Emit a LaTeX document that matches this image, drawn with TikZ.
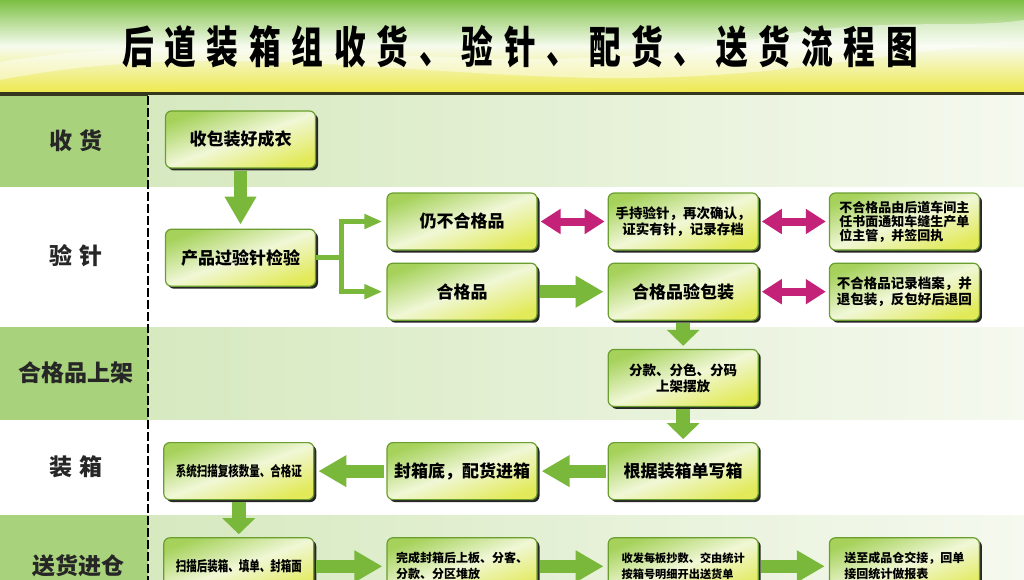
\documentclass[tikz,border=0pt]{standalone}
\usepackage{fontspec}
\usepackage{graphicx}
\setmainfont{Noto Sans CJK SC}
\usetikzlibrary{arrows.meta,positioning,shadows}

\definecolor{bannergreen}{HTML}{7CC043}
\definecolor{bannerwhite}{HTML}{F6FBEE}
\definecolor{banneryellow}{HTML}{EEE94F}
\definecolor{bandline}{HTML}{34361E}
\definecolor{leftgreen}{HTML}{A9D27C}
\definecolor{rowgreen}{HTML}{D6E9BF}
\definecolor{rowfade}{HTML}{F5F9EF}
\definecolor{boxtop}{HTML}{A6D25C}
\definecolor{boxmid}{HTML}{F0F7D6}
\definecolor{boxbot}{HTML}{E2EA5A}
\definecolor{boxline}{HTML}{6A9E2E}
\definecolor{arrowgreen}{HTML}{79B83A}
\definecolor{pinkarrow}{HTML}{C42279}

\begin{document}
\begin{tikzpicture}[x=1pt, y=-1pt,
        node distance=70pt,
        stepbox/.style={draw=boxline, line width=1.2pt, rounded corners=6pt,
            top color=boxtop, bottom color=boxbot, middle color=boxmid, shading angle=20,
            drop shadow={shadow xshift=2.5pt, shadow yshift=-2.5pt, fill=black!85, opacity=1},
            minimum width=150pt, minimum height=57pt, inner sep=2pt, align=center,
            font=\bfseries\fontsize{17}{20}\selectfont},
        smalltext/.style={font=\bfseries\fontsize{13.5}{16}\selectfont},
        tinytext/.style={font=\bfseries\fontsize{12}{16}\selectfont, align=left},
        rowlabel/.style={font=\bfseries\fontsize{23}{26}\selectfont, text=black!85},
        fatarrow/.style={arrowgreen, line width=13pt, shorten >=4pt, shorten <=2pt, -{Triangle[length=28pt,width=30pt]}},
        shortarrow/.style={arrowgreen, line width=14pt, shorten >=3pt, shorten <=2pt, -{Triangle[length=16pt,width=32pt]}},
        thinarrow/.style={arrowgreen, line width=5pt, shorten >=4pt, -{Triangle[length=18pt,width=14pt]}},
        twoway/.style={pinkarrow, line width=8pt, shorten >=3pt, shorten <=3pt, {Triangle[length=20pt,width=24pt]}-{Triangle[length=20pt,width=24pt]}}
    ]
    \useasboundingbox (0,0) rectangle (1024,580);
    \clip (0,0) rectangle (1024,580);

    % banner
    \shade[top color=bannergreen, bottom color=banneryellow, middle color=bannerwhite] (0,0) rectangle (1024,92);
    \fill[white, opacity=0.45] (0,62) .. controls (250,20) and (500,90) .. (750,40) .. controls (880,15) and (960,30) .. (1024,20) -- (1024,45) .. controls (900,45) and (800,80) .. (600,78) .. controls (400,75) and (200,40) .. (0,80) -- cycle;
    \fill[bandline] (0,92) rectangle (1024,96);

    % lanes
    \fill[leftgreen] (0,96) rectangle (148,187);
    \shade[left color=rowgreen, right color=rowfade] (148,96) rectangle (1024,187);
    \fill[white] (0,187) rectangle (1024,327);
    \fill[leftgreen] (0,327) rectangle (148,420);
    \shade[left color=rowgreen, right color=rowfade] (148,327) rectangle (1024,420);
    \fill[white] (0,420) rectangle (1024,515);
    \fill[leftgreen] (0,515) rectangle (148,580);
    \shade[left color=rowgreen, right color=rowfade] (148,515) rectangle (1024,580);
    \draw[black, line width=1.6pt, dash pattern=on 9pt off 3pt] (148,96) -- (148,580);

    \node[font=\bfseries\fontsize{44}{48}\selectfont\addfontfeatures{LetterSpace=34}] (title) at (520,47)
        {\scalebox{0.72}[1]{后道装箱组收货、验针、配货、送货流程图}};

    \node[rowlabel] (rshou) at (76,141) {收\hspace{8pt}货};
    \node[rowlabel] (ryan) at (76,256) {验\hspace{8pt}针};
    \node[rowlabel] (rshang) at (76,373) {合格品上架};
    \node[rowlabel] (rzhuang) at (76,467) {装\hspace{8pt}箱};
    \node[rowlabel] (rsong) at (78,566) {送货进仓};

    \node[stepbox] (shou) at (240.5,139.5) {收包装好成衣};
    \node[stepbox, below=60pt of shou] (jianyan) {产品过验针检验};
    \node[stepbox] (reng) at (462,221.5) {仍不合格品};
    \node[stepbox, below=12pt of reng] (hege) {合格品};
    \node[stepbox, smalltext, right=of reng] (shouchi) {手持验针，再次确认，\\证实有针，记录存档};
    \node[stepbox, font=\bfseries\fontsize{13}{14}\selectfont, align=left, right=of shouchi] (tongzhi)
        {不合格品由后道车间主\\任书面通知车缝生产单\\位主管，并签回执};
    \node[stepbox, right=of hege] (yanbao) {合格品验包装};
    \node[stepbox, smalltext, right=of yanbao] (dangan) {不合格品记录档案，并\\退包装，反包好后退回};
    \node[stepbox, smalltext, below=28pt of yanbao] (fenkuan) {分款、分色、分码\\上架摆放};
    \node[stepbox, below=35pt of fenkuan] (genju) {根据装箱单写箱};
    \node[stepbox, left=of genju] (fengdi) {封箱底，配货进箱};
    \node[stepbox, left=72pt of fengdi] (saomiao)
        {\scalebox{0.75}[1]{\fontsize{14}{16}\selectfont 系统扫描复核数量、合格证}};
    \node[stepbox, below=37pt of saomiao] (zhuangxiang)
        {\scalebox{0.75}[1]{\fontsize{14}{16}\selectfont 扫描后装箱、填单、封箱面}};
    \node[stepbox, tinytext, right=72pt of zhuangxiang] (shangban) {完成封箱后上板、分客、\\分款、分区堆放};
    \node[stepbox, tinytext, font=\bfseries\fontsize{11.2}{16}\selectfont, right=of shangban] (chaoshu)
        {收发每板抄数、交由统计\\按箱号明细开出送货单};
    \node[stepbox, tinytext, right=of chaoshu] (songzhi) {送至成品仓交接，回单\\接回统计做报表};

    \coordinate[right=25pt of jianyan] (fork);

    \draw[fatarrow] (shou) -- (jianyan);
    \draw[thinarrow] (jianyan) -- (fork) |- (reng);
    \draw[thinarrow] (jianyan) -- (fork) |- (hege);
    \draw[twoway] (reng) -- (shouchi);
    \draw[twoway] (shouchi) -- (tongzhi);
    \draw[twoway] (yanbao) -- (dangan);
    \draw[fatarrow] (hege) -- (yanbao);
    \draw[shortarrow] (yanbao) -- (fenkuan);
    \draw[shortarrow] (fenkuan) -- (genju);
    \draw[fatarrow] (genju) -- (fengdi);
    \draw[fatarrow] (fengdi) -- (saomiao);
    \draw[shortarrow] (saomiao) -- (zhuangxiang);
    \draw[fatarrow] (zhuangxiang) -- (shangban);
    \draw[fatarrow] (shangban) -- (chaoshu);
    \draw[fatarrow] (chaoshu) -- (songzhi);
\end{tikzpicture}
\end{document}
